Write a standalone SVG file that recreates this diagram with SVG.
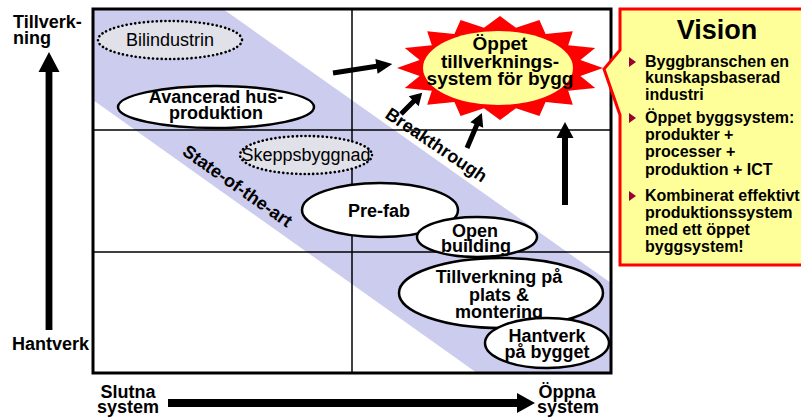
<svg xmlns="http://www.w3.org/2000/svg" width="801" height="419" viewBox="0 0 801 419">
  <defs>
    <clipPath id="frameClip">
      <rect x="93" y="9" width="518" height="364"/>
    </clipPath>
  </defs>
  <style>
    text { font-family: "Liberation Sans", Arial, sans-serif; fill: #000; }
    .b { font-weight: bold; font-size: 18px; }
    .r { font-size: 18px; }
    .c { text-anchor: middle; }
    .node { fill: #fff; stroke: #000; stroke-width: 2.5; }
    .dotted { fill: #e1e1ea; stroke: #000; stroke-width: 2.6; stroke-dasharray: 0.1 4.2; stroke-linecap: round; }
    .grid { stroke: #000; stroke-width: 1.5; fill: none; }
    .arrow { fill: #000; }
    .bullet { fill: #990033; }
    .vt { font-weight: bold; font-size: 16px; }
  </style>

  <rect width="801" height="419" fill="#fff"/>

  <!-- diagonal band of current practice -->
  <polygon points="93,9 223,9 611,283 611,373 477,373 93,100" fill="#ccccee" clip-path="url(#frameClip)"/>

  <!-- grid -->
  <g id="grid">
    <line class="grid" x1="352" y1="9" x2="352" y2="373"/>
    <line class="grid" x1="93" y1="130" x2="611" y2="130"/>
    <line class="grid" x1="93" y1="252" x2="611" y2="252"/>
    <rect x="93" y="9" width="518" height="364" fill="none" stroke="#000" stroke-width="3"/>
  </g>

  <!-- band labels -->
  <text class="b c" transform="translate(234,191) rotate(35)">State-of-the-art</text>
  <text class="b c" transform="translate(433,150) rotate(34)">Breakthrough</text>

  <!-- connectors -->
  <g id="connectors">
    <polygon class="arrow" transform="translate(333,73) rotate(-8.7)" points="0,-2.5 44,-2.5 44,-7.5 60,0 44,7.5 44,2.5 0,2.5"/>
    <polygon class="arrow" transform="translate(401,114) rotate(-45)" points="0,-2.5 18,-2.5 18,-7 30,0 18,7 18,2.5 0,2.5"/>
    <polygon class="arrow" transform="translate(467,148) rotate(-67)" points="0,-2.5 25,-2.5 25,-7 38,0 25,7 25,2.5 0,2.5"/>
    <polygon class="arrow" transform="translate(565,205) rotate(-90)" points="0,-3 67,-3 67,-8.5 83,0 67,8.5 67,3 0,3"/>
  </g>

  <!-- nodes -->
  <g id="bilindustrin">
    <ellipse class="dotted" cx="170" cy="40" rx="72" ry="19"/>
    <text class="r c" x="170" y="46">Bilindustrin</text>
  </g>
  <g id="avancerad">
    <ellipse class="node" cx="216" cy="107" rx="98" ry="21"/>
    <text class="b c" x="216" y="103">Avancerad hus-</text>
    <text class="b c" x="216" y="119">produktion</text>
  </g>
  <g id="skeppsbyggnad">
    <ellipse class="dotted" cx="306" cy="155" rx="66" ry="19"/>
    <text class="r c" x="306" y="161">Skeppsbyggnad</text>
  </g>
  <g id="prefab">
    <ellipse class="node" cx="380" cy="210" rx="78" ry="27"/>
    <text class="b c" x="379" y="217">Pre-fab</text>
  </g>
  <g id="open-building">
    <ellipse class="node" cx="477" cy="237" rx="60" ry="20"/>
    <text class="b c" x="475" y="237">Open</text>
    <text class="b c" x="476" y="252">building</text>
  </g>
  <g id="tillverkning">
    <ellipse class="node" cx="501" cy="293" rx="102" ry="35"/>
    <text class="b c" x="499" y="283">Tillverkning på</text>
    <text class="b c" x="499" y="301">plats &amp;</text>
    <text class="b c" x="499" y="318">montering</text>
  </g>
  <g id="hantverk-bygget">
    <ellipse class="node" cx="547" cy="343" rx="62" ry="25"/>
    <text class="b c" x="547" y="342">Hantverk</text>
    <text class="b c" x="547" y="358">på bygget</text>
  </g>

  <!-- goal: open building system -->
  <g id="goal">
    <polygon fill="#ff0000" points="500,16 516,27.8 539.4,20 545.6,33.9 572.8,31.2 568.2,45.2 595.2,48.1 580.4,60 603,68 580.4,76 595.2,87.9 568.2,90.8 572.8,104.8 545.6,102.1 539.4,116 516,108.2 500,120 484,108.2 460.6,116 454.4,102.1 427.2,104.8 431.8,90.8 404.8,87.9 419.6,76 397,68 419.6,60 404.8,48.1 431.8,45.2 427.2,31.2 454.4,33.9 460.6,20 484,27.8"/>
    <ellipse cx="498" cy="68" rx="75" ry="37" fill="#ffff99"/>
    <text class="c" x="500" y="50" style="font-weight:bold;font-size:19px">Öppet</text>
    <text class="c" x="500" y="68" style="font-weight:bold;font-size:19px">tillverknings-</text>
    <text class="c" x="500" y="85" style="font-weight:bold;font-size:19px">system för bygg</text>
  </g>

  <!-- vision callout -->
  <g id="vision">
    <path d="M620,9 H830 V265 H620 V115 L604,69 L620,50 Z" fill="#ffff99" stroke="#ff0000" stroke-width="3"/>
    <text class="c" x="717" y="39" style="font-weight:bold;font-size:27px">Vision</text>
    <polygon class="bullet" points="629,57 636,62 629,67"/>
    <text class="vt" x="645" y="67">Byggbranschen en</text>
    <text class="vt" x="645" y="83">kunskapsbaserad</text>
    <text class="vt" x="645" y="100">industri</text>
    <polygon class="bullet" points="629,113 636,118 629,123"/>
    <text class="vt" x="645" y="123">Öppet byggsystem:</text>
    <text class="vt" x="645" y="140">produkter +</text>
    <text class="vt" x="645" y="157">processer +</text>
    <text class="vt" x="645" y="175">produktion + ICT</text>
    <polygon class="bullet" points="629,191 636,196 629,201"/>
    <text class="vt" x="645" y="201">Kombinerat effektivt</text>
    <text class="vt" x="645" y="218">produktionssystem</text>
    <text class="vt" x="645" y="235">med ett öppet</text>
    <text class="vt" x="645" y="252">byggsystem!</text>
  </g>

  <!-- axes -->
  <g id="axis-y">
    <polygon class="arrow" transform="translate(49,330) rotate(-90)" points="0,-3.4 258,-3.4 258,-10.5 278,0 258,10.5 258,3.4 0,3.4"/>
    <text class="b" x="13" y="28">Tillverk-</text>
    <text class="b" x="13" y="44">ning</text>
    <text class="b" x="12" y="350">Hantverk</text>
  </g>
  <g id="axis-x">
    <polygon class="arrow" points="168,399 517,399 517,393 535,403 517,413 517,407 168,407"/>
    <text class="b c" x="128" y="398">Slutna</text>
    <text class="b c" x="128" y="413">system</text>
    <text class="b c" x="567" y="398">Öppna</text>
    <text class="b c" x="568" y="413">system</text>
  </g>
</svg>
